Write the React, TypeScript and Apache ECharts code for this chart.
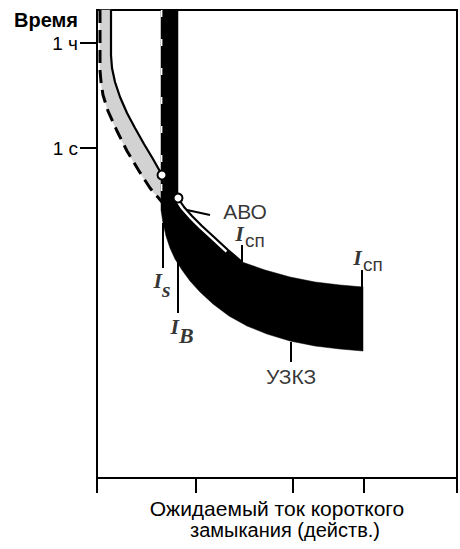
import React, { useEffect, useRef } from 'react';
import * as echarts from 'echarts';

// Axis ticks (schematic units)
const xTicks = [0, 99, 196, 267, 360];
const yTicks = [435, 330];
const yTickLabels = ['1 ч', '1 с'];

// АВО characteristic: solid (upper) boundary
const aboSolidX = [14, 14, 15, 18, 23, 30, 38, 47, 56, 65, 81, 87, 95, 105, 117, 131, 145];
const aboSolidY = [468, 423, 410, 396, 381, 365, 350, 334, 319, 303, 280, 271, 262, 252, 241, 228, 216];
// АВО characteristic: dashed (lower) boundary
const aboDashX = [3, 3, 4, 6, 11, 20, 30, 42, 53, 65];
const aboDashY = [468, 408, 396, 383, 367, 347, 327, 307, 290, 276];

// УЗКЗ band: lower/left boundary and upper/right boundary
const uzkzLowerX = [64, 64, 66, 69, 73, 78, 85, 93, 103, 116, 132, 150, 170, 193, 218, 243, 266];
const uzkzLowerY = [468, 268, 255, 242, 230, 219, 208, 197, 186, 174, 162, 152, 144, 137, 132, 129, 127];
const uzkzUpperX = [81, 81, 87, 95, 105, 117, 131, 145, 168, 193, 218, 243, 266];
const uzkzUpperY = [468, 280, 271, 262, 252, 241, 228, 216, 208, 201, 196, 193, 191];

// Intersection points (Is, IB)
const pointsX = [65, 81];
const pointsY = [303, 280];

// Leader lines: [x1, y1, x2, y2]
const leaderX1 = [66, 81, 145, 265, 194, 90];
const leaderY1 = [255, 216, 216, 191, 136, 268];
const leaderX2 = [66, 81, 145, 265, 194, 113];
const leaderY2 = [210, 165, 233, 208, 116, 263];

// Annotation labels
const labelText = ['АВО', 'УЗКЗ', '{i|I}{s|сп}', '{i|I}{s|сп}', '{i|I}{si|s}', '{i|I}{si|B}'];
const labelX = [148, 194, 153, 271, 65, 85];
const labelY = [267, 102, 242, 218, 193, 147];

const SANS = '"Liberation Sans", Arial, Helvetica, sans-serif';
const SERIF = '"Liberation Serif", "Times New Roman", serif';

function zip(xs: number[], ys: number[]) {
  return xs.map((x, i) => [x, ys[i]]);
}

function polygonSeries(xs: number[], ys: number[], fill: string, z: number) {
  return {
    type: 'custom',
    silent: true,
    clip: false,
    z,
    data: [[0, 0]],
    renderItem: (_p: any, api: any) => ({
      type: 'polygon',
      shape: { points: xs.map((x, i) => api.coord([x, ys[i]])) },
      style: { fill, stroke: fill, lineWidth: 0.5 },
    }),
  };
}

export default function App() {
  const ref = useRef<HTMLDivElement>(null);
  useEffect(() => {
    const chart = echarts.init(ref.current!, null, { renderer: 'svg' });

    const grayX = aboSolidX.slice(0, 10).concat(aboDashX.slice().reverse());
    const grayY = aboSolidY.slice(0, 10).concat(aboDashY.slice().reverse());
    const bandX = uzkzLowerX.concat(uzkzUpperX.slice().reverse());
    const bandY = uzkzLowerY.concat(uzkzUpperY.slice().reverse());

    const leaders = leaderX1.map((x1, i) => ({
      type: 'line',
      silent: true,
      z: 6,
      symbol: 'none',
      data: [[x1, leaderY1[i]], [leaderX2[i], leaderY2[i]]],
      lineStyle: { color: '#000', width: 2 },
    }));

    const noBorder = { textBorderWidth: 0, textBorderColor: 'transparent', textShadowBlur: 0 };
    const rich = {
      i: { fontFamily: SERIF, fontStyle: 'italic', fontWeight: 'bold', fontSize: 22, color: '#000', verticalAlign: 'top', ...noBorder },
      s: { fontFamily: SANS, fontSize: 19, color: '#000', verticalAlign: 'top', padding: [9, 0, 0, 1], ...noBorder },
      si: { fontFamily: SERIF, fontStyle: 'italic', fontWeight: 'bold', fontSize: 22, color: '#000', verticalAlign: 'top', padding: [9, 0, 0, 0], ...noBorder },
    };

    const option: any = {
      animation: false,
      grid: {
        left: 97,
        top: 10,
        width: 360,
        height: 468,
        show: true,
        borderColor: '#000',
        borderWidth: 2,
        backgroundColor: 'transparent',
      },
      xAxis: {
        type: 'value',
        min: 0,
        max: 360,
        axisLine: { show: true, lineStyle: { color: '#000', width: 2 } },
        axisTick: {
          show: true,
          customValues: xTicks,
          length: 15,
          inside: false,
          lineStyle: { color: '#000', width: 2 },
        },
        axisLabel: { show: false },
        splitLine: { show: false },
      },
      yAxis: {
        type: 'value',
        min: 0,
        max: 468,
        axisLine: { show: true, lineStyle: { color: '#000', width: 2 } },
        axisTick: {
          show: true,
          customValues: yTicks,
          length: 17,
          inside: false,
          lineStyle: { color: '#000', width: 2 },
        },
        axisLabel: {
          show: true,
          customValues: yTicks,
          margin: 19,
          color: '#000',
          fontFamily: SANS,
          fontSize: 19,
          formatter: (v: number) => {
            const idx = yTicks.indexOf(v);
            return idx >= 0 ? yTickLabels[idx] : '';
          },
        },
        splitLine: { show: false },
      },
      graphic: [
        {
          type: 'text',
          left: 14,
          top: 10,
          style: { text: 'Время', font: `bold 20px ${SANS}`, fill: '#000' },
        },
        {
          type: 'text',
          x: 277,
          y: 508,
          style: {
            text: 'Ожидаемый ток короткого',
            font: `21px ${SANS}`,
            fill: '#000',
            align: 'center',
            verticalAlign: 'middle',
          },
        },
        {
          type: 'text',
          x: 285,
          y: 530,
          style: {
            text: 'замыкания (действ.)',
            font: `20px ${SANS}`,
            fill: '#000',
            align: 'center',
            verticalAlign: 'middle',
          },
        },
      ],
      series: [
        polygonSeries(grayX, grayY, '#d2d2d2', 1),
        polygonSeries(bandX, bandY, '#000', 2),
        {
          type: 'line',
          silent: true,
          z: 3,
          symbol: 'none',
          data: [[64.6, 468], [64.6, 272]],
          lineStyle: { color: '#fff', width: 1.6, type: [7, 22] },
        },
        {
          type: 'line',
          silent: true,
          z: 4,
          symbol: 'none',
          data: zip(aboSolidX.slice(10, 16), aboSolidY.slice(10, 16)),
          lineStyle: { color: '#fff', width: 7 },
        },
        {
          type: 'line',
          silent: true,
          z: 5,
          symbol: 'none',
          data: zip(aboDashX, aboDashY),
          lineStyle: { color: '#000', width: 3, type: [13, 7] },
        },
        {
          type: 'line',
          silent: true,
          z: 6,
          symbol: 'none',
          data: zip(aboSolidX, aboSolidY),
          lineStyle: { color: '#000', width: 2.2 },
        },
        ...leaders,
        {
          type: 'scatter',
          silent: true,
          z: 8,
          symbol: 'circle',
          symbolSize: 9,
          data: zip(pointsX, pointsY),
          itemStyle: { color: '#fff', borderColor: '#000', borderWidth: 2, opacity: 1 },
        },
        {
          type: 'scatter',
          silent: true,
          z: 9,
          symbolSize: 1,
          itemStyle: { color: 'rgba(0,0,0,0)' },
          data: labelX.map((x, i) => ({
            value: [x, labelY[i]],
            label: {
              show: true,
              position: 'inside',
              formatter: labelText[i],
              color: '#000',
              fontFamily: SANS,
              fontSize: 21,
              ...noBorder,
              rich,
            },
          })),
        },
      ],
    };
    chart.setOption(option);
    return () => chart.dispose();
  }, []);
  return (
    <div
      ref={ref}
      style={{ position: 'fixed', left: 0, top: 0, width: 460, height: 549, background: '#fff' }}
    />
  );
}
